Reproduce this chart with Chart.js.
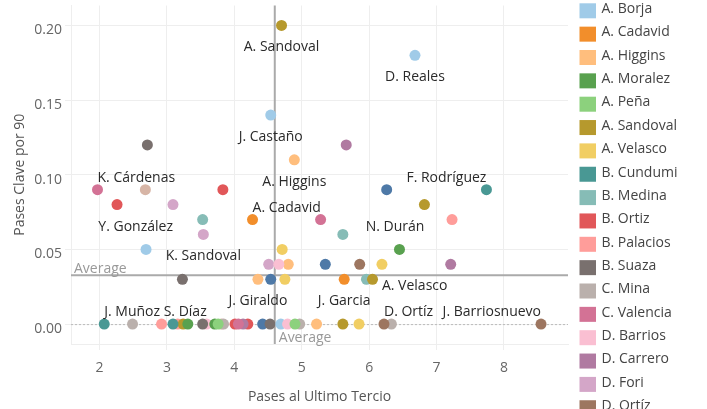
<!DOCTYPE html>
<html>
<head>
<meta charset="utf-8">
<script src="https://cdn.jsdelivr.net/npm/chart.js@4.4.1/dist/chart.umd.min.js"></script>
<style>
  html, body { margin: 0; padding: 0; background: #fff; }
  #wrap { position: relative; width: 707px; height: 409px; }
</style>
</head>
<body>
<div id="wrap"><canvas id="myChart" width="707" height="409"></canvas></div>
<script>
// one entry per player trace, in trace order (colour follows the trace number)
const playerTrace = [0, 1, 2, 3, 4, 5, 6, 7, 8, 9, 10, 11, 12, 13, 14, 15, 16, 17, 18, 19,
  20, 22, 23, 24, 25, 26, 27, 28, 29, 30, 31, 32, 33, 34, 35, 37, 38, 39,
  40, 41, 42, 43, 45, 46, 47, 48, 49, 50, 51, 52, 53, 55, 56, 57, 59,
  60, 62, 65, 66, 69, 71, 72, 74, 76, 79, 85];
const playerName = ['A. Borja', 'A. Cadavid', 'A. Higgins', 'A. Moralez', 'A. Peña', 'A. Sandoval',
  'A. Velasco', 'B. Cundumi', 'B. Medina', 'B. Ortiz', 'B. Palacios', 'B. Suaza', 'C. Mina',
  'C. Valencia', 'D. Barrios', 'D. Carrero', 'D. Fori', 'D. Ortíz', '', '',
  'D. Reales', '', '', '', '', '', 'F. Rodríguez', '', '', '', '', '', '', '', '', 'J. Barriosnuevo', '', '',
  'J. Castaño', 'J. Garcia', 'J. Giraldo', '', '', '', 'J. Muñoz', '', '', '', '', '', 'K. Cárdenas', '', 'K. Sandoval', '', '',
  '', '', 'N. Durán', '', '', '', '', 'S. Díaz', 'Y. González', '', ''];
const pasesUltimoTercio = [2.69, 4.27, 4.89, 6.45, 3.76, 4.70, 6.19, 3.09, 3.53, 3.83, 7.23, 2.71, 2.49, 5.28, 4.66, 5.66, 4.51, 6.22, 2.68, 6.26,
  6.68, 4.80, 3.71, 4.90, 6.05, 4.71, 7.74, 5.61, 2.26, 2.92, 3.23, 3.84, 4.06, 4.79, 7.21, 8.55, 3.81, 5.35,
  4.54, 5.63, 4.35, 3.31, 3.24, 4.75, 2.07, 5.96, 4.01, 3.16, 3.53, 4.97, 1.97, 4.13, 3.54, 5.86, 4.54,
  4.69, 5.22, 6.82, 5.85, 4.20, 4.53, 6.33, 3.59, 3.09, 4.42, 5.61];
const pasesClave90 = [0.05, 0.07, 0.11, 0.05, 0, 0.20, 0.04, 0, 0.07, 0.09, 0.07, 0.12, 0, 0.07, 0.04, 0.12, 0.04, 0, 0.09, 0.09,
  0.18, 0.04, 0, 0, 0.03, 0.05, 0.09, 0.06, 0.08, 0, 0.03, 0, 0, 0, 0.04, 0, 0, 0.04,
  0.14, 0.03, 0.03, 0, 0, 0.03, 0, 0.03, 0, 0, 0, 0, 0.09, 0, 0.06, 0.04, 0.03,
  0, 0, 0.08, 0, 0, 0, 0, 0, 0.08, 0, 0];

const xTicks = [2, 3, 4, 5, 6, 7, 8];
const yTicks = [0, 0.05, 0.1, 0.15, 0.2];
const avgUltimoTercio = 4.60;
const avgClave90 = 0.0327;

const palette = ['#4e79a7', '#a0cbe8', '#f28e2b', '#ffbe7d', '#59a14f', '#8cd17d', '#b6992d', '#f1ce63',
  '#499894', '#86bcb6', '#e15759', '#ff9d9a', '#79706e', '#bab0ac', '#d37295', '#fabfd2',
  '#b07aa1', '#d4a6c8', '#9d7660', '#d7b5a6'];

// where the name sits next to the labelled players
const labelPos = {
  'A. Sandoval': 'bottom center', 'D. Reales': 'bottom center', 'J. Castaño': 'bottom center',
  'A. Higgins': 'bottom center', 'K. Cárdenas': 'top right', 'F. Rodríguez': 'top left',
  'A. Cadavid': 'top right', 'Y. González': 'bottom left', 'N. Durán': 'bottom left',
  'K. Sandoval': 'bottom center', 'A. Velasco': 'bottom right', 'J. Giraldo': 'bottom center',
  'J. Garcia': 'bottom center', 'J. Muñoz': 'top right', 'S. Díaz': 'top left',
  'D. Ortíz': 'top right', 'J. Barriosnuevo': 'top left'
};

const FONT = '"Open Sans", sans-serif';

const datasets = playerTrace.map((t, i) => ({
  label: playerName[i],
  data: [{ x: pasesUltimoTercio[i], y: pasesClave90[i] }],
  backgroundColor: palette[(t + 1) % 20],
  borderWidth: 0,
  pointRadius: 5.5,
}));

const backLines = {
  id: 'backLines',
  beforeDatasetsDraw(chart) {
    const c = chart.ctx, a = chart.chartArea;
    const xs = chart.scales.x, ys = chart.scales.y;
    c.save();
    // dotted zero line
    const y0 = ys.getPixelForValue(0);
    c.strokeStyle = '#bbb';
    c.lineWidth = 1;
    c.setLineDash([2, 2]);
    c.beginPath();
    c.moveTo(a.left, y0 + 0.5);
    c.lineTo(a.right, y0 + 0.5);
    c.stroke();
    c.setLineDash([]);
    // averages
    c.strokeStyle = '#aaa';
    c.lineWidth = 2;
    const ya = ys.getPixelForValue(avgClave90);
    const xa = xs.getPixelForValue(avgUltimoTercio);
    c.beginPath();
    c.moveTo(a.left, ya);
    c.lineTo(a.right, ya);
    c.moveTo(xa, a.top);
    c.lineTo(xa, a.bottom);
    c.stroke();
    c.fillStyle = '#999';
    c.font = '14px ' + FONT;
    c.textAlign = 'left';
    c.textBaseline = 'alphabetic';
    c.fillText('Average', a.left + 3, ya - 2);
    c.fillText('Average', xa + 4, a.bottom - 2);
    c.restore();
  }
};

const pointLabels = {
  id: 'pointLabels',
  afterDatasetsDraw(chart) {
    const c = chart.ctx;
    c.save();
    c.font = '14px ' + FONT;
    c.fillStyle = '#2a2a2a';
    c.textBaseline = 'middle';
    chart.data.datasets.forEach((ds, i) => {
      const pos = labelPos[ds.label];
      if (!pos) return;
      const pt = chart.getDatasetMeta(i).data[0];
      const [v, h] = pos.split(' ');
      c.textAlign = h === 'center' ? 'center' : (h === 'left' ? 'right' : 'left');
      const dy = v === 'top' ? -12 : 22;
      c.fillText(ds.label, pt.x, pt.y + dy);
    });
    c.restore();
  }
};

const sideLegend = {
  id: 'sideLegend',
  afterDraw(chart) {
    const c = chart.ctx;
    c.save();
    c.font = '14px ' + FONT;
    c.textBaseline = 'middle';
    c.textAlign = 'left';
    chart.data.datasets.forEach((ds, i) => {
      const top = 3.3 + i * 23.35;
      if (top > chart.height) return;
      c.fillStyle = ds.backgroundColor;
      c.fillRect(579.5, top, 16.5, 15);
      c.fillStyle = '#444';
      c.fillText(ds.label, 601.5, top + 5.8);
    });
    c.restore();
  }
};

const ctx = document.getElementById('myChart');
new Chart(ctx, {
  type: 'scatter',
  data: { datasets },
  plugins: [backLines, pointLabels, sideLegend],
  options: {
    responsive: false,
    animation: false,
    events: [],
    layout: { padding: { left: 0, right: 139, top: 4, bottom: 0 } },
    plugins: { legend: { display: false }, tooltip: { enabled: false } },
    scales: {
      x: {
        type: 'linear',
        min: 1.577,
        max: 8.95,
        afterBuildTicks: s => { s.ticks = xTicks.map(v => ({ value: v })); },
        afterFit: s => { s.height = 65; s.paddingLeft = 0; s.paddingRight = 0; },
        ticks: { autoSkip: false, maxRotation: 0, padding: 10, color: '#666', font: { family: FONT, size: 14 }, callback: v => String(v) },
        grid: { color: '#eee', tickColor: '#eee', tickLength: 6 },
        border: { display: true, color: '#eee' },
        title: { display: true, text: 'Pases al Ultimo Tercio', color: '#555', font: { family: FONT, size: 14 }, padding: { top: 0, bottom: 4 } },
      },
      y: {
        type: 'linear',
        min: -0.013333,
        max: 0.213333,
        afterBuildTicks: s => { s.ticks = yTicks.map(v => ({ value: v })); },
        afterFit: s => { s.width = 71; s.paddingTop = 0; s.paddingBottom = 0; },
        ticks: { autoSkip: false, padding: 3, labelOffset: 5, color: '#666', font: { family: FONT, size: 14 }, callback: v => v.toFixed(2) },
        grid: { color: '#eee', tickColor: '#eee', tickLength: 6 },
        border: { display: true, color: '#eee' },
        title: { display: true, text: 'Pases Clave por 90', color: '#555', font: { family: FONT, size: 14 }, padding: { top: 12, bottom: 0 } },
      },
    },
  },
});
</script>
</body>
</html>
